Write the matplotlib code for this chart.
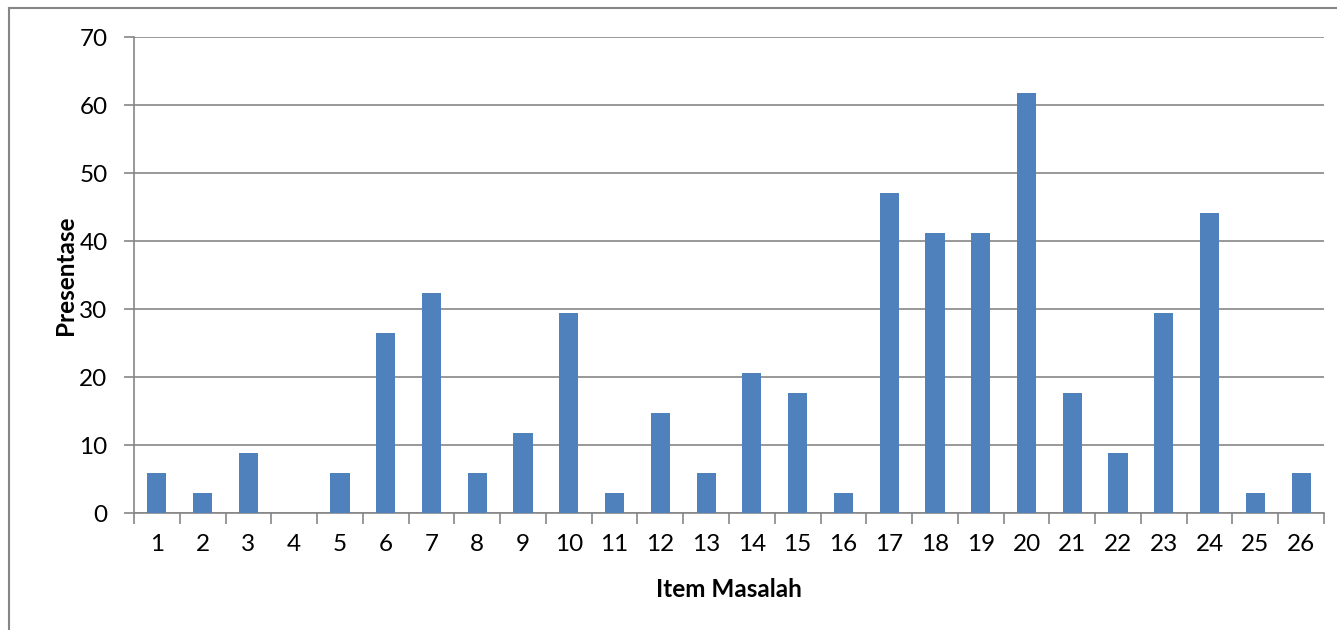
import matplotlib
matplotlib.use("Agg")
import matplotlib.pyplot as plt
from matplotlib.lines import Line2D

categories = [str(i) for i in range(1, 27)]
values = [5.88, 2.94, 8.82, 0, 5.88, 26.47, 32.35, 5.88, 11.76, 29.41,
          2.94, 14.71, 5.88, 20.59, 17.65, 2.94, 47.06, 41.18, 41.18, 61.76,
          17.65, 8.82, 29.41, 44.12, 2.94, 5.88]
yticks = [0, 10, 20, 30, 40, 50, 60, 70]
xlabel = "Item Masalah"
ylabel = "Presentase"

plt.rcParams['font.family'] = ['Lato', 'DejaVu Sans']
W, H = 1337, 630
fig = plt.figure(figsize=(W / 100, H / 100), dpi=100)
ax = fig.add_axes([134 / W, 1 - 513 / H, (1324 - 134) / W, (513 - 37) / H])

x = list(range(len(categories)))
ax.bar(x, values, width=0.42, color='#4F81BD', zorder=3)
ax.set_xlim(-0.5, len(categories) - 0.5)
ax.set_ylim(0, 70)
ax.set_yticks(yticks)
ax.set_yticklabels([str(t) for t in yticks], fontsize=17.5)
ax.set_xticks(x)
ax.set_xticklabels(categories, fontsize=17.5)
ax.tick_params(axis='x', length=0, pad=15)
ax.tick_params(axis='y', length=7, width=1.2, color='#868686', pad=12)
# category boundary ticks
ax.set_xticks([i - 0.5 for i in range(len(categories) + 1)], minor=True)
ax.tick_params(axis='x', which='minor', length=8, width=1.2, color='#868686')
ax.grid(axis='y', color='#868686', linewidth=1.2, zorder=0)
for s in ['top', 'right']:
    ax.spines[s].set_visible(False)
for s in ['left', 'bottom']:
    ax.spines[s].set_color('#868686')
    ax.spines[s].set_linewidth(1.2)

ax.set_xlabel(xlabel, fontsize=17.5, fontweight='bold', labelpad=17)
ax.set_ylabel(ylabel, fontsize=17.5, fontweight='bold', labelpad=2)

# outer chart frame
fig.add_artist(Line2D([8.5 / W, 1], [1 - 7.5 / H, 1 - 7.5 / H], color='#868686', lw=1.5, transform=fig.transFigure))
fig.add_artist(Line2D([8.5 / W, 8.5 / W], [0, 1 - 7.5 / H], color='#868686', lw=1.5, transform=fig.transFigure))

fig.savefig('out.png', dpi=100)
